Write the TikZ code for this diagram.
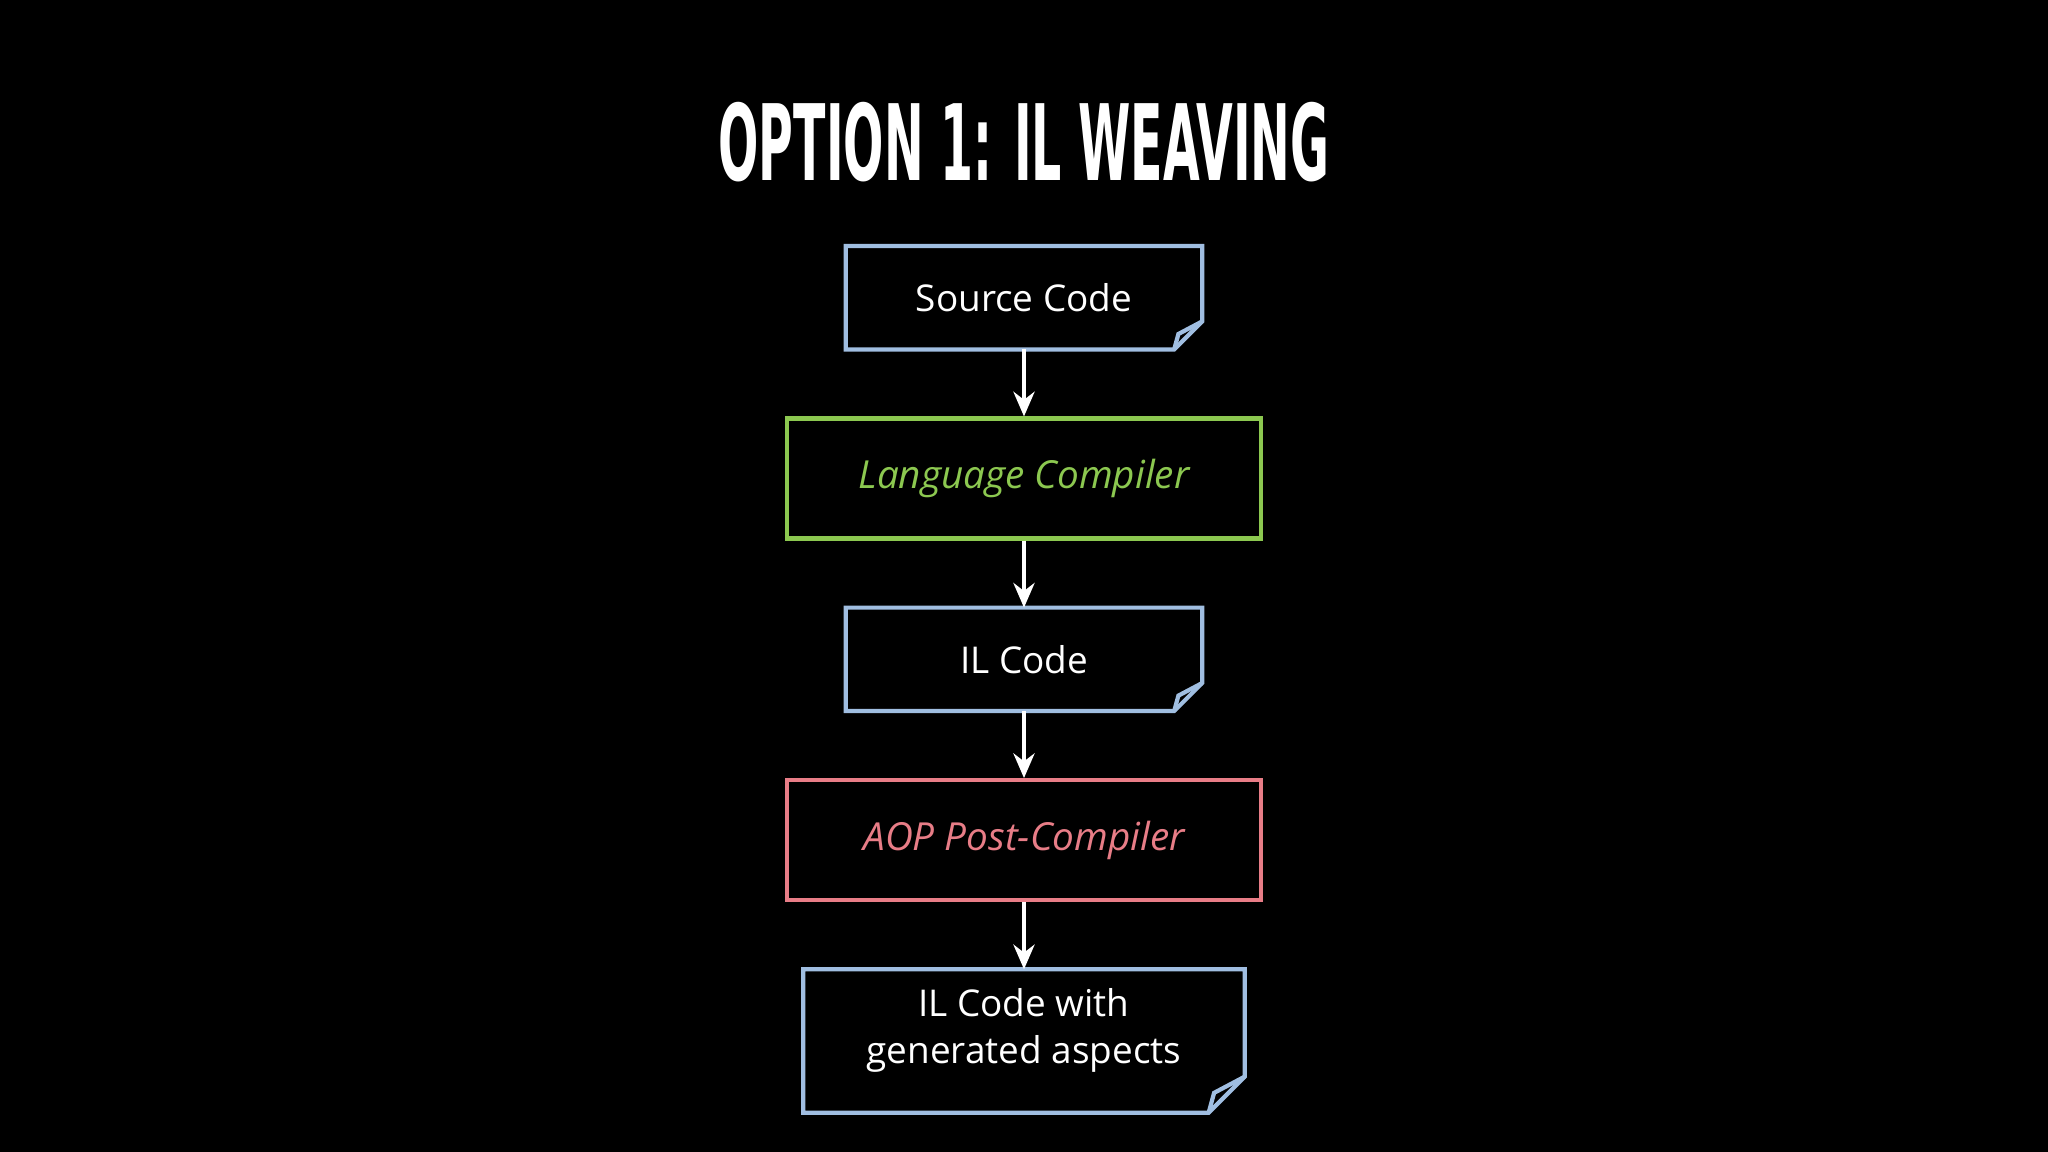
\documentclass[tikz,border=0pt]{standalone}
\usepackage{fontspec}
\setmainfont{Open Sans}
\newfontfamily\titlefont{DejaVu Sans Condensed}
\usetikzlibrary{positioning, calc, arrows.meta}
\definecolor{docblue}{RGB}{160,190,225}
\definecolor{compgreen}{RGB}{140,200,80}
\definecolor{aoppink}{RGB}{232,125,135}
\tikzset{
    flow/.style={-{Stealth[length=7pt,width=6pt]}, white, line width=1.2pt}, % connectors
    doc/.style={minimum width=3.55cm, minimum height=1.02cm, align=center, text=white, font=\fontsize{10.5}{13.5}\selectfont},
    proc/.style={draw, line width=1.2pt, minimum width=4.74cm, minimum height=1.2cm, font=\fontsize{11}{14}\selectfont\itshape},
    docline/.style={docblue, line width=1.2pt, line join=miter},
}
\begin{document}
\begin{tikzpicture}[node distance=0.67cm]
    \fill[black] (0,0) rectangle (20.48,-11.52);
    \useasboundingbox (0,0) rectangle (20.48,-11.52);

    % Titel
    \node[text=white, font=\titlefont\bfseries\fontsize{30}{34}\selectfont] (title) at (10.24,-1.42) {\scalebox{0.5}[1]{OPTION 1: IL WEAVING}};

    % Kasten
    \node[doc, anchor=north] (src) at (10.24,-2.46) {Source Code};
    \node[proc, draw=compgreen, text=compgreen, below=of src] (lang) {Language Compiler};
    \node[doc, below=of lang] (il) {IL Code};
    \node[proc, draw=aoppink, text=aoppink, below=of il] (aop) {AOP Post-Compiler};
    \node[doc, minimum width=4.4cm, minimum height=1.42cm, below=of aop, text depth=0.3cm] (ilgen) {IL Code with\\generated aspects};

    % Dokumentumrisse mit Eselsohr
    \foreach \n/\e in {src/0.28, il/0.28, ilgen/0.36} {
        \draw[docline] (\n.north west) -- (\n.north east) -- ($(\n.south east)+(0,\e)$)
            -- ($(\n.south east)+(-\e,0)$) -- (\n.south west) -- cycle;
        \draw[docline] ($(\n.south east)+(0,\e)$) -- ($(\n.south east)+(-0.85*\e,0.55*\e)$)
            -- ($(\n.south east)+(-\e,0)$);
    }

    % Pfeile
    \draw[flow] (src) -- (lang);
    \draw[flow] (lang) -- (il);
    \draw[flow] (il) -- (aop);
    \draw[flow] (aop) -- (ilgen);
\end{tikzpicture}
\end{document}
